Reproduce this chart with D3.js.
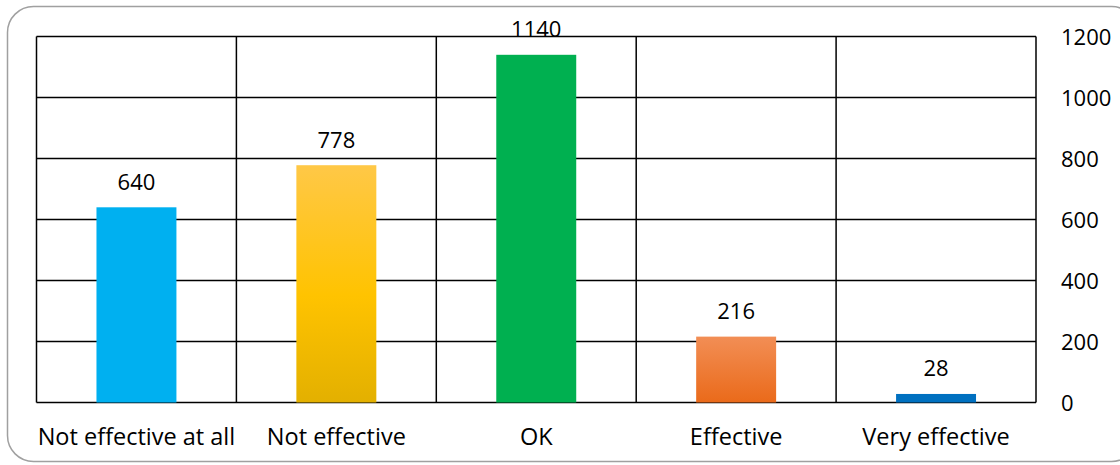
<!DOCTYPE html>
<html><head><meta charset="utf-8">
<script src="https://cdn.jsdelivr.net/npm/d3@7"></script>
<style>body{margin:0;background:#fff}svg{display:block}text{font-family:"Open Sans",Lato,sans-serif;fill:#000}</style>
</head><body><svg id="c" width="1120" height="465"></svg>
<script>
const categories = ["Not effective at all","Not effective","OK","Effective","Very effective"];
const values = [640,778,1140,216,28];
const yTicks = [0,200,400,600,800,1000,1200];
const colors = [
  ["#00B0F0","#00B0F0"],
  ["#FFC847","#E3B000"],
  ["#00B050","#00B050"],
  ["#F28E55","#EA6A1A"],
  ["#0070C0","#0070C0"]
];
const svg = d3.select("#c");
const m = {l:36.5, t:36.5, r:1036, b:402.5};
svg.append("rect").attr("x",7.5).attr("y",6.5).attr("width",1130).attr("height",455).attr("rx",26)
  .attr("fill","none").attr("stroke","#a0a0a0").attr("stroke-width",1.5);
const x = d3.scaleBand().domain(categories).range([m.l,m.r]).paddingInner(0).paddingOuter(0);
const y = d3.scaleLinear().domain([0,1200]).range([m.b,m.t]);
const defs = svg.append("defs");
colors.forEach((c,i)=>{
  const g = defs.append("linearGradient").attr("id","g"+i).attr("x1",0).attr("y1",0).attr("x2",0).attr("y2",1);
  if(i===1){
    g.append("stop").attr("offset","0%").attr("stop-color","#FFC847");
    g.append("stop").attr("offset","55%").attr("stop-color","#FFC300");
    g.append("stop").attr("offset","100%").attr("stop-color","#E3B000");
  } else {
    g.append("stop").attr("offset","0%").attr("stop-color",c[0]);
    g.append("stop").attr("offset","100%").attr("stop-color",c[1]);
  }
});
// gridlines
svg.append("g").selectAll("line").data(yTicks).join("line")
  .attr("x1",m.l).attr("x2",m.r).attr("y1",d=>y(d)).attr("y2",d=>y(d))
  .attr("stroke","#000").attr("stroke-width",1.5);
const bounds = categories.map(c=>x(c)).concat([m.r]);
svg.append("g").selectAll("line").data(bounds).join("line")
  .attr("x1",d=>d).attr("x2",d=>d).attr("y1",m.t).attr("y2",m.b)
  .attr("stroke","#000").attr("stroke-width",1.5);
// bars
const bw = x.bandwidth()*0.4;
svg.append("g").selectAll("rect").data(values).join("rect")
  .attr("x",(d,i)=>x(categories[i])+x.bandwidth()/2-bw/2)
  .attr("width",bw)
  .attr("y",d=>y(d)).attr("height",d=>y(0)-y(d))
  .attr("fill",(d,i)=>"url(#g"+i+")");
// value labels
svg.append("g").selectAll("text").data(values).join("text")
  .attr("x",(d,i)=>x(categories[i])+x.bandwidth()/2)
  .attr("y",d=>y(d)-17.5)
  .attr("text-anchor","middle").attr("font-size",22).text(d=>d);
// right axis labels
svg.append("g").selectAll("text").data(yTicks).join("text")
  .attr("x",1061).attr("y",d=>y(d)+8)
  .attr("font-size",22).text(d=>d);
// category labels
svg.append("g").selectAll("text").data(categories).join("text")
  .attr("x",d=>x(d)+x.bandwidth()/2).attr("y",445)
  .attr("text-anchor","middle").attr("font-size",23.5).text(d=>d);
</script></body></html>
